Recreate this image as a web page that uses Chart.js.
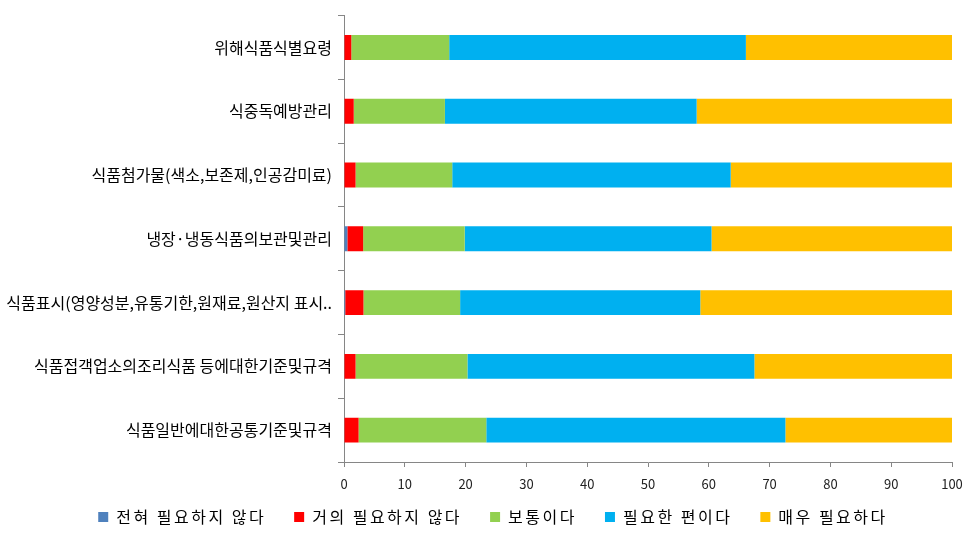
<!DOCTYPE html>
<html><head><meta charset="utf-8">
<script src="https://cdn.jsdelivr.net/npm/chart.js@4/dist/chart.umd.min.js"></script>
<style>html,body{margin:0;padding:0;background:#fff;}#wrap{width:979px;height:539px;}</style>
</head><body><div id="wrap"><canvas id="c" width="979" height="539"></canvas></div>
<script>
const categories = [
  "위해식품식별요령",
  "식중독예방관리",
  "식품첨가물(색소,보존제,인공감미료)",
  "냉장·냉동식품의보관및관리",
  "식품표시(영양성분,유통기한,원재료,원산지 표시..",
  "식품접객업소의조리식품 등에대한기준및규격",
  "식품일반에대한공통기준및규격"
];
const seriesNames = ["전혀 필요하지 않다", "거의 필요하지 않다", "보통이다", "필요한 편이다", "매우 필요하다"];
const notNeededAtAll = [0, 0, 0, 0.55, 0.2, 0, 0];
const hardlyNeeded   = [1.2, 1.6, 1.9, 2.6, 3.0, 1.9, 2.4];
const neutral        = [16.1, 15.0, 15.9, 16.7, 15.9, 18.4, 21.0];
const fairlyNeeded   = [48.8, 41.4, 45.8, 40.6, 39.5, 47.2, 49.2];
const veryNeeded     = [33.9, 42.0, 36.4, 39.55, 41.4, 32.5, 27.4];
const xTicks = [0, 10, 20, 30, 40, 50, 60, 70, 80, 90, 100];

const colors = ["#4F81BD", "#FF0000", "#92D050", "#00B0F0", "#FFC000"];
const values = [notNeededAtAll, hardlyNeeded, neutral, fairlyNeeded, veryNeeded];

const FONT = "'Noto Sans CJK KR', 'Noto Sans', sans-serif";

// legend: wider letter spacing, compact box height, slight offset
(function () {
  const lp = Chart.registry.getPlugin('legend');
  const L = lp && lp._element;
  if (!L) return;
  const origFit = L.prototype.fit;
  L.prototype.fit = function () {
    const c = this.ctx;
    const prev = c.letterSpacing;
    c.letterSpacing = '2.5px';
    const r = origFit.apply(this, arguments);
    c.letterSpacing = prev || '0px';
    if (this.isHorizontal && this.isHorizontal()) this.height = 35;
    return r;
  };
  const origDraw = L.prototype.draw;
  L.prototype.draw = function () {
    const c = this.ctx;
    const prev = c.letterSpacing;
    c.letterSpacing = '2.5px';
    const dy = 23, dx = 17;
    this.top -= dy; this.left += dx; this.right += dx;
    const r = origDraw.apply(this, arguments);
    this.top += dy; this.left -= dx; this.right -= dx;
    c.letterSpacing = prev || '0px';
    return r;
  };
})();

new Chart(document.getElementById('c'), {
  type: 'bar',
  data: {
    labels: categories,
    datasets: seriesNames.map((n, i) => ({
      label: n,
      data: values[i],
      backgroundColor: colors[i],
      borderWidth: 0,
      barPercentage: 0.39,
      categoryPercentage: 1.0
    }))
  },
  options: {
    indexAxis: 'y',
    responsive: false,
    animation: false,
    layout: { padding: { top: 14, right: 27, bottom: 0, left: 0 } },
    plugins: {
      tooltip: { enabled: false },
      legend: {
        position: 'bottom',
        labels: {
          boxWidth: 10, boxHeight: 10, padding: 28,
          color: '#000',
          font: { family: FONT, size: 16 }
        }
      }
    },
    scales: {
      x: {
        stacked: true, min: 0, max: 100,
        afterBuildTicks: s => { s.ticks = xTicks.map(v => ({ value: v })); },
        afterFit: s => { s.height = 42; },
        grid: { drawOnChartArea: false, color: '#868686', tickLength: 5 },
        border: { color: '#868686' },
        ticks: { color: '#222', font: { family: FONT, size: 13 }, padding: 9 }
      },
      y: {
        stacked: true,
        afterFit: s => { s.width = 344; },
        grid: { drawOnChartArea: false, color: '#868686', tickLength: 6, offset: true },
        border: { color: '#868686' },
        ticks: { color: '#000', font: { family: FONT, size: 16 }, padding: 6 }
      }
    }
  }
});
</script></body></html>
